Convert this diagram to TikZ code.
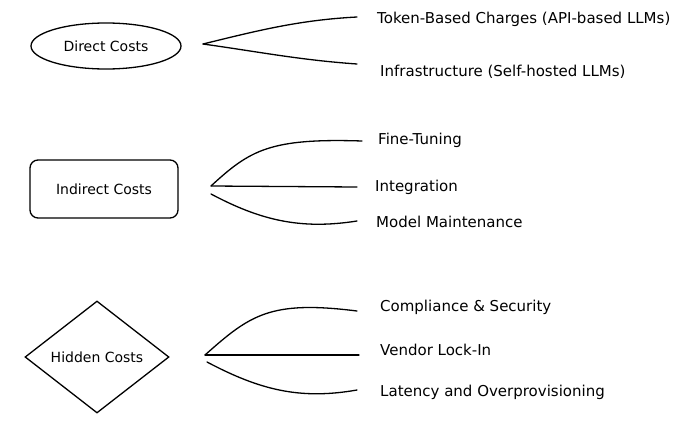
\documentclass[tikz,border=0pt]{standalone}
\usepackage{fontspec}
\setmainfont{DejaVu Sans}
\usetikzlibrary{shapes.geometric}
\begin{document}
\begin{tikzpicture}[x=1pt,y=-1pt,
  lbl/.style={anchor=west,font=\fontsize{15}{17}\selectfont,inner sep=0},
  box/.style={draw,line width=1.3pt,font=\fontsize{14}{16}\selectfont},
  con/.style={line width=1.3pt,line cap=round}]
\useasboundingbox (0,0) rectangle (700,423);
\node[box,ellipse,minimum width=150,minimum height=46] (d) at (106,46) {Direct Costs};
\node[box,rounded corners=8pt,minimum width=148,minimum height=58] (i) at (104,189) {Indirect Costs};
\node[box,diamond,minimum width=144,minimum height=112,inner sep=0] (h) at (97,357) {Hidden Costs};
\node[lbl] (d1) at (377,19) {Token-Based Charges (API-based LLMs)};
\node[lbl] (d2) at (380,72) {Infrastructure (Self-hosted LLMs)};
\node[lbl] (i1) at (378,140) {Fine-Tuning};
\node[lbl] (i2) at (375,187) {Integration};
\node[lbl] (i3) at (376,222) {Model Maintenance};
\node[lbl] (h1) at (380,307) {Compliance \& Security};
\node[lbl] (h2) at (380,350) {Vendor Lock-In};
\node[lbl] (h3) at (380,392) {Latency and Overprovisioning};
\coordinate (da) at (203,44);
\coordinate (ia) at (211,186);
\coordinate (ha) at (205,355);
\draw[con] (da) .. controls (260,30) and (300,20) .. (357,17);
\draw[con] (da) .. controls (260,52) and (300,60) .. (357,64);
\draw[con] (ia) .. controls (250,150) and (270,138) .. (362,141);
\draw[con] (ia) -- (357,187);
\draw[con] (211,194) .. controls (260,220) and (300,230) .. (357,221);
\draw[con] (ha) .. controls (250,315) and (270,300) .. (357,311);
\draw[con] (ha) -- (359,355);
\draw[con] (207,362) .. controls (260,390) and (300,400) .. (357,390);
\end{tikzpicture}
\end{document}
